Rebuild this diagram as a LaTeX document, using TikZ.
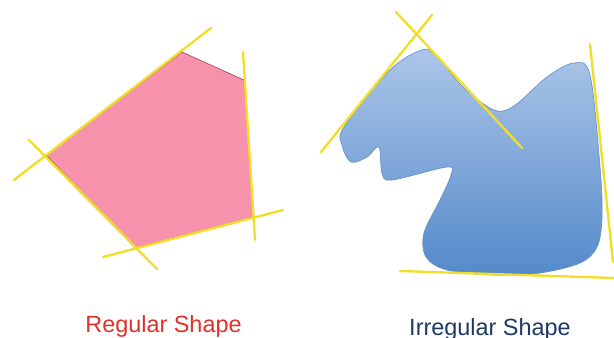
\documentclass[tikz,border=0pt]{standalone}
\usepackage{fontspec}
\setmainfont{Liberation Sans}
\usepackage{xcolor}
\usepackage{tikz}
\definecolor{shpink}{RGB}{247,146,173}
\definecolor{shpinkedge}{RGB}{160,60,70}
\definecolor{shyel}{RGB}{240,222,40}
\definecolor{shbluetop}{RGB}{172,198,232}
\definecolor{shbluebot}{RGB}{84,138,202}
\definecolor{shblueedge}{RGB}{105,145,205}
\definecolor{shred}{RGB}{226,48,42}
\definecolor{shnavy}{RGB}{31,56,100}
\tikzset{
  tline/.style={draw=shyel, line width=2pt, line cap=round},
  regshape/.style={fill=shpink, draw=shpinkedge, line width=0.5pt, line join=round},
  irrshape/.style={top color=shbluetop, bottom color=shbluebot, draw=shblueedge, line width=0.6pt},
  caption/.style={font=\fontsize{20}{22}\selectfont, anchor=base, inner sep=0pt}
}

\begin{document}
\begin{tikzpicture}[x=0.03cm, y=-0.03cm]
  \useasboundingbox (0,0) rectangle (614,338);
  % regular shape
  \coordinate (p1) at (182,52);
  \coordinate (p2) at (244,80);
  \coordinate (p3) at (254,217);
  \coordinate (p4) at (135,248);
  \coordinate (p5) at (46,155);
  \path[regshape] (p1) -- (p2) -- (p3) -- (p4) -- (p5) -- cycle;
  % tangent lines
  \coordinate (ta1) at (14,180);  \coordinate (ta2) at (211,28);
  \coordinate (tb1) at (243,52);  \coordinate (tb2) at (255,240);
  \coordinate (tc1) at (103,257); \coordinate (tc2) at (283,210);
  \coordinate (td1) at (29,140);  \coordinate (td2) at (157,269);
  \foreach \p/\q in {ta1/ta2,tb1/tb2,tc1/tc2,td1/td2}
    \draw[tline] (\p) -- (\q);

  % irregular shape
  \path[irrshape] plot[smooth cycle, tension=0.55] coordinates {
    (422,50) (390,70) (344,127) (342,145) (351,162) (367,157) (379,147)
    (382,173) (392,180) (447,167) (451,175) (440,200) (424,233) (426,257)
    (447,270) (494,275) (540,273) (580,263) (597,247) (602,217) (600,167)
    (590,75) (574,63) (547,77) (514,106) (494,110) (464,88) (436,56)};
  \coordinate (ua1) at (321,152); \coordinate (ua2) at (432,15);
  \coordinate (ub1) at (396,12);  \coordinate (ub2) at (522,148);
  \coordinate (uc1) at (590,44);  \coordinate (uc2) at (613,262);
  \coordinate (ud1) at (400,271); \coordinate (ud2) at (614,278);
  \foreach \p/\q in {ua1/ua2,ub1/ub2,uc1/uc2,ud1/ud2}
    \draw[tline] (\p) -- (\q);

  \node[caption, text=shred] (reglabel) at (163.5,332) {Regular Shape};
  \node[caption, text=shnavy] (irrlabel) at (490,335) {Irregular Shape};
\end{tikzpicture}
\end{document}
